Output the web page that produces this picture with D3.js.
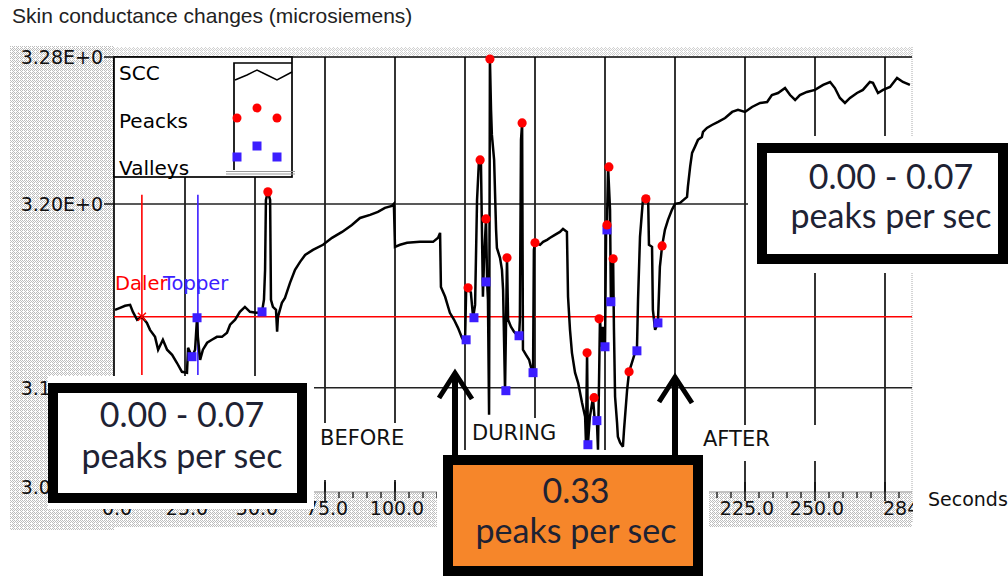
<!DOCTYPE html>
<html><head><meta charset="utf-8">
<script src="https://cdn.jsdelivr.net/npm/d3@7"></script>
<style>html,body{margin:0;padding:0;background:#fff;}svg{display:block;}</style>
</head><body>
<svg id="chart" width="1008" height="576"></svg>
<script>
// ---------- DATA (seconds, microsiemens) ----------
const sccBefore = [[0.0,3.1424],[1.8,3.1435],[3.6,3.1446],[5.4,3.1451],[6.4,3.1413],[7.9,3.1370],[9.6,3.1386],[11.4,3.1353],[12.5,3.1315],[14.3,3.1277],[15.4,3.1207],[17.1,3.1261],[18.6,3.1207],[20.4,3.1179],[22.1,3.1136],[23.9,3.1087],[25.7,3.1082],[26.1,3.1218],[27.5,3.1169],[28.6,3.1207],[29.3,3.1381],[29.6,3.1277],[30.4,3.1152],[31.4,3.1207],[32.9,3.1245],[34.6,3.1261],[36.4,3.1277],[38.2,3.1277],[40.0,3.1299],[41.1,3.1343],[42.9,3.1370],[44.6,3.1413],[46.4,3.1440],[48.2,3.1413],[50.7,3.1408],[52.5,3.1413],[53.2,3.1479],[53.6,3.1642],[53.9,3.2022],[54.6,3.2066],[55.4,3.2022],[55.7,3.1479],[56.4,3.1440],[57.5,3.1424],[57.9,3.1305],[58.2,3.1386],[59.6,3.1462],[60.7,3.1489],[62.5,3.1571],[64.3,3.1642],[66.1,3.1685],[67.9,3.1723],[70.7,3.1750],[74.3,3.1778],[77.5,3.1816],[81.1,3.1848],[84.6,3.1886],[87.5,3.1924],[91.1,3.1941],[93.9,3.1957],[96.4,3.1979],[98.9,3.1990],[99.6,3.2001],[100.0,3.1767],[101.8,3.1778],[104.3,3.1789],[108.9,3.1794],[113.6,3.1794],[115.4,3.1816],[116.1,3.1843],[116.4,3.1549],[117.9,3.1495],[119.6,3.1408],[121.1,3.1370],[122.5,3.1326],[123.9,3.1272],[125.0,3.1245]];
const sccDuring = [[125.4,3.1522],[126.1,3.1544],[127.1,3.1517],[127.9,3.1381],[128.6,3.1451],[129.3,3.2022],[130.0,3.2240],[130.7,3.2224],[131.4,3.1495],[131.8,3.1696],[132.5,3.1919],[132.9,3.1576],[133.2,3.1479],[133.6,3.0853],[133.9,3.2789],[134.3,3.2512],[134.6,3.2376],[135.4,3.2240],[136.1,3.1859],[136.4,3.1761],[137.5,3.1707],[138.2,3.1642],[138.6,3.1533],[139.3,3.0984],[140.0,3.1707],[140.4,3.1370],[141.4,3.1332],[142.5,3.1305],[143.6,3.1288],[144.3,3.1277],[144.6,3.1370],[145.0,3.2349],[145.4,3.2441],[145.7,3.1207],[146.8,3.1179],[147.9,3.1152],[148.6,3.1109],[149.3,3.1082],[149.6,3.1750],[150.0,3.1789],[151.8,3.1778],[152.9,3.1794],[154.3,3.1805],[155.4,3.1816],[157.1,3.1832],[158.9,3.1848],[160.0,3.1865],[161.4,3.1848],[161.8,3.1495],[162.5,3.1315],[163.2,3.1190],[164.3,3.1082],[165.4,3.1027],[166.1,3.0973],[166.8,3.0918],[167.9,3.0842],[168.2,3.0701],[168.6,3.1190],[168.9,3.0690],[169.6,3.0842],[170.7,3.0946],[171.4,3.0810],[172.1,3.0821],[172.5,3.0663],[173.2,3.1370],[173.9,3.1223],[174.3,3.1332],[175.0,3.1218],[175.4,3.1859],[175.7,3.1886],[176.1,3.2202],[176.8,3.1968],[177.1,3.1468],[177.9,3.1702],[178.2,3.1315],[178.6,3.0951],[179.3,3.0810],[179.6,3.0734],[180.4,3.0701],[181.4,3.0679],[181.8,3.0772],[182.9,3.0989],[183.6,3.1087],[184.6,3.1136],[185.7,3.1190],[186.4,3.1201],[186.8,3.1479],[187.5,3.1821],[188.6,3.2033],[189.6,3.2039],[190.4,3.2039],[190.7,3.1778],[191.8,3.1767],[192.1,3.1424],[192.9,3.1315],[193.9,3.1353],[194.6,3.1658],[195.4,3.1772],[196.4,3.1859],[197.5,3.1914],[198.9,3.1968]];
const sccAfter = [[200.0,3.2001],[201.8,3.2006],[204.3,3.2039],[204.6,3.2093],[205.4,3.2202],[206.1,3.2278],[207.1,3.2311],[208.2,3.2349],[209.6,3.2365],[210.0,3.2392],[211.4,3.2414],[213.2,3.2430],[215.4,3.2447],[217.9,3.2468],[220.4,3.2501],[222.5,3.2512],[225.0,3.2501],[227.5,3.2528],[230.4,3.2550],[232.9,3.2555],[234.6,3.2593],[236.8,3.2604],[239.3,3.2631],[241.1,3.2593],[242.9,3.2566],[244.6,3.2593],[247.1,3.2610],[250.0,3.2621],[252.9,3.2648],[255.4,3.2664],[257.1,3.2631],[258.9,3.2577],[260.7,3.2550],[262.5,3.2577],[265.0,3.2604],[267.1,3.2621],[269.6,3.2664],[270.7,3.2659],[272.5,3.2604],[274.3,3.2621],[276.8,3.2637],[279.3,3.2686],[281.4,3.2664],[283.9,3.2648]];
const peaks = [[54.6,3.2066],[126.1,3.1544],[130.4,3.2240],[132.5,3.1919],[133.9,3.2789],[140.0,3.1707],[145.4,3.2441],[150.0,3.1789],[168.6,3.1190],[171.1,3.0946],[172.9,3.1375],[175.7,3.1886],[176.4,3.2202],[177.9,3.1702],[183.6,3.1087],[189.6,3.2028],[195.4,3.1772]];
const valleys = [[27.5,3.1169],[29.3,3.1381],[52.5,3.1413],[125.4,3.1261],[128.2,3.1381],[132.5,3.1576],[139.6,3.0984],[144.3,3.1283],[149.3,3.1082],[168.9,3.0690],[172.1,3.0821],[175.0,3.1223],[175.7,3.1859],[177.1,3.1468],[186.4,3.1201],[193.9,3.1353]];
const threshold = 3.1386;
const markerTimes = [9.6, 29.6];
const markerNames = ["Daler", "Topper"];
const markerSpan = [3.107, 3.205];
const xGridValues = [25,50,75,100,125,150,175,200,225,250,275];
const xLabelValues = [0,25,50,75,100,225,250];
const xLabelText = ["0.0","25.0","50.0","75.0","100.0","225.0","250.0"];
const xEndLabel = "284";
const yTickValues = [3.28,3.20,3.10,3.046];
const yTickText = ["3.28E+0","3.20E+0","3.10E+0","3.05E+0"];
const yGridValues = [3.20,3.10];
const legendItems = ["SCC","Peacks","Valleys"];
const phaseLabels = ["BEFORE","DURING","AFTER"];
const rateLabels = ["0.00 - 0.07","0.33","0.00 - 0.07"];
const rateUnit = "peaks per sec";

// ---------- SCALES ----------
const svg = d3.select("#chart");
const x = d3.scaleLinear().domain([0,285]).range([115,913]);
const y = d3.scaleLinear().domain([3.28,3.20]).range([57,204]);
const X0=114, X1=912, Y0=57, Y1=492;
const AX = "DejaVu Sans, Verdana, sans-serif";

svg.append("rect").attr("width",1008).attr("height",576).attr("fill","#fff");
const defs = svg.append("defs");
const pat = defs.append("pattern").attr("id","dither").attr("width",4).attr("height",4).attr("patternUnits","userSpaceOnUse");
pat.append("rect").attr("width",4).attr("height",4).attr("fill","#fff");
[[0,0],[2,0],[1,1],[3,1],[0,2],[2,2],[1,3]].forEach(([a,b])=>pat.append("rect").attr("x",a).attr("y",b).attr("width",1).attr("height",1).attr("fill","#bdbdbd"));
defs.append("clipPath").attr("id","plotclip").append("rect").attr("x",X0).attr("y",Y0-2).attr("width",X1-X0).attr("height",Y1-Y0+2);
defs.append("clipPath").attr("id","axclip").append("rect").attr("x",0).attr("y",0).attr("width",913).attr("height",576);

// dithered frame outside the plot
svg.append("rect").attr("x",10).attr("y",46).attr("width",X0-10).attr("height",484).attr("fill","url(#dither)");
svg.append("rect").attr("x",X0).attr("y",47).attr("width",X1-X0).attr("height",9).attr("fill","url(#dither)").attr("opacity",0.7);
svg.append("rect").attr("x",100).attr("y",Y1+1).attr("width",X1-100).attr("height",34).attr("fill","url(#dither)");
svg.append("rect").attr("x",X0).attr("y",Y0).attr("width",X1-X0).attr("height",Y1-Y0).attr("fill","#fff");
svg.append("line").attr("x1",X1).attr("x2",X1).attr("y1",47).attr("y2",Y1+30).attr("stroke","#aaa").attr("stroke-dasharray","1,1");

// grid
const g = svg.append("g");
g.selectAll("line.vg").data(xGridValues).join("line").attr("class","vg")
  .attr("x1",d=>x(d)).attr("x2",d=>x(d)).attr("y1",Y0).attr("y2",Y1)
  .attr("stroke","#111").attr("stroke-width",1.7);
g.selectAll("line.hg").data(yGridValues).join("line").attr("class","hg")
  .attr("x1",X0).attr("x2",X1).attr("y1",d=>y(d)).attr("y2",d=>y(d))
  .attr("stroke","#222").attr("stroke-width",1.7);
g.append("line").attr("x1",X0).attr("x2",X1).attr("y1",Y0).attr("y2",Y0).attr("stroke","#000").attr("stroke-width",1.7);
g.append("line").attr("x1",X0).attr("x2",X0).attr("y1",Y0).attr("y2",Y1).attr("stroke","#000").attr("stroke-width",1.7);

// threshold & markers
g.append("line").attr("x1",X0).attr("x2",X1).attr("y1",y(threshold)).attr("y2",y(threshold)).attr("stroke","#ff0000").attr("stroke-width",1.6);
const markerColors = ["#ff0000","#3c1eff"];
g.selectAll("line.mk").data(markerTimes).join("line").attr("class","mk")
  .attr("x1",d=>x(d)).attr("x2",d=>x(d)).attr("y1",y(markerSpan[1])).attr("y2",y(markerSpan[0]))
  .attr("stroke",(d,i)=>markerColors[i]).attr("stroke-width",1.6);

// signal
const series = sccBefore.concat(sccDuring, sccAfter);
const line = d3.line().x(d=>x(d[0])).y(d=>y(d[1]));
svg.append("path").datum(series).attr("d",line).attr("fill","none").attr("stroke","#000")
  .attr("stroke-width",2.5).attr("stroke-linejoin","miter").attr("stroke-miterlimit",3).attr("clip-path","url(#plotclip)");

// cross where Daler marker meets threshold
const cx0 = x(markerTimes[0]), cy0 = y(threshold);
svg.append("path").attr("d",`M${cx0-4},${cy0-4}L${cx0+4},${cy0+4}M${cx0-4},${cy0+4}L${cx0+4},${cy0-4}`).attr("stroke","#ff0000").attr("stroke-width",1.5);

// peaks / valleys
svg.selectAll("rect.valley").data(valleys).join("rect").attr("class","valley")
  .attr("x",d=>x(d[0])-4.5).attr("y",d=>y(d[1])-4.5).attr("width",9).attr("height",9).attr("fill","#3c1eff");
svg.selectAll("circle.peak").data(peaks).join("circle").attr("class","peak")
  .attr("cx",d=>x(d[0])).attr("cy",d=>y(d[1])).attr("r",4.6).attr("fill","#ff0000");

// marker names
const mt = svg.append("text").attr("y",290).attr("font-family",AX).attr("font-size",19.5);
mt.append("tspan").attr("x",115).attr("fill","#ff0000").text(markerNames[0]);
mt.append("tspan").attr("x",163).attr("fill","#3c1eff").text(markerNames[1]);

// legend
const lg = svg.append("g");
lg.append("rect").attr("x",X0).attr("y",Y0).attr("width",178).attr("height",120).attr("fill","#fff").attr("stroke","#000").attr("stroke-width",1.7);
lg.selectAll("text").data(legendItems).join("text").attr("x",119).attr("y",(d,i)=>80+i*47.5)
  .attr("font-family",AX).attr("font-size",20).attr("fill","#000").text(d=>d);
lg.append("path").attr("d","M234,170V63H292").attr("fill","none").attr("stroke","#000").attr("stroke-width",1.7);
lg.append("path").attr("d","M226,171.5H295M226,174H295").attr("stroke","#999").attr("stroke-width",1);
lg.append("polyline").attr("points","235,80 247,75 257,70 267,75 277,80 292,72").attr("fill","none").attr("stroke","#000").attr("stroke-width",1.5);
[[237,118],[257,108],[277,118]].forEach(([a,b])=>lg.append("circle").attr("cx",a).attr("cy",b).attr("r",4.5).attr("fill","#ff0000"));
[[237,157],[257,146],[277,157]].forEach(([a,b])=>lg.append("rect").attr("x",a-4.5).attr("y",b-4.5).attr("width",9).attr("height",9).attr("fill","#3c1eff"));

// phase labels (with white background as in the source)
const phasePos = [[316,423,90,57,320,445],[468,418,92,32,472,440],[698,425,125,36,703,446]];
phaseLabels.forEach((t,i)=>{
  const p = phasePos[i];
  svg.append("rect").attr("x",p[0]).attr("y",p[1]).attr("width",p[2]).attr("height",p[3]).attr("fill","#fff");
  svg.append("text").attr("x",p[4]).attr("y",p[5]).attr("font-family",AX).attr("font-size",21).attr("fill","#111").text(t);
});

// x axis
svg.append("line").attr("x1",X0).attr("x2",X1).attr("y1",Y1).attr("y2",Y1).attr("stroke","#888").attr("stroke-width",1);
const minor = d3.range(0,285,5).filter(v=>v%25!==0);
svg.selectAll("line.minor").data(minor).join("line").attr("class","minor")
  .attr("x1",d=>x(d)).attr("x2",d=>x(d)).attr("y1",Y1).attr("y2",Y1+6).attr("stroke","#111").attr("stroke-width",1.3);
svg.selectAll("line.major").data(xGridValues).join("line").attr("class","major")
  .attr("x1",d=>x(d)).attr("x2",d=>x(d)).attr("y1",Y1-10).attr("y2",Y1+9).attr("stroke","#111").attr("stroke-width",1.6);
svg.selectAll("text.xl").data(xLabelValues).join("text").attr("class","xl")
  .attr("x",d=>x(d)+2).attr("y",515).attr("text-anchor","middle").attr("font-family",AX).attr("font-size",19).attr("fill","#111")
  .text((d,i)=>xLabelText[i]);
svg.append("text").attr("x",883).attr("y",515).attr("font-family",AX).attr("font-size",19).attr("fill","#111").attr("clip-path","url(#axclip)").text(xEndLabel);
svg.append("text").attr("x",928).attr("y",506).attr("font-family",AX).attr("font-size",19).attr("fill","#111").text("Seconds");

// y axis
svg.selectAll("text.yl").data(yTickValues).join("text").attr("class","yl")
  .attr("x",103).attr("y",d=>y(d)+7).attr("text-anchor","end").attr("font-family",AX).attr("font-size",19).attr("fill","#111")
  .text((d,i)=>yTickText[i]);
svg.selectAll("line.yt").data(yTickValues).join("line").attr("class","yt")
  .attr("x1",104).attr("x2",X0).attr("y1",d=>y(d)).attr("y2",d=>y(d)).attr("stroke","#111").attr("stroke-width",1.5);

// title
svg.append("text").attr("x",12).attr("y",23).attr("font-family","Liberation Sans, Arial, sans-serif").attr("font-size",21).attr("fill","#222")
  .text("Skin conductance changes (microsiemens)");

// arrows
function arrow(cx, tip){
  svg.append("line").attr("x1",cx).attr("x2",cx).attr("y1",tip+3).attr("y2",455).attr("stroke","#000").attr("stroke-width",6);
  svg.append("polyline").attr("points",`${cx-16},${tip+25} ${cx},${tip} ${cx+17},${tip+26}`).attr("fill","none").attr("stroke","#000").attr("stroke-width",5).attr("stroke-linejoin","miter");
}

// rate boxes
const BF = "Lato, 'Open Sans', sans-serif";
function box(x0,y0,w,h,fill,l1,l2,cx,b1,b2){
  svg.append("rect").attr("x",x0+5).attr("y",y0+5).attr("width",w-10).attr("height",h-10).attr("fill",fill).attr("stroke","#000").attr("stroke-width",10);
  svg.append("text").attr("x",cx).attr("y",b1).attr("text-anchor","middle").attr("font-family",BF).attr("font-size",34).attr("fill","#1e2233").text(l1);
  svg.append("text").attr("x",cx).attr("y",b2).attr("text-anchor","middle").attr("font-family",BF).attr("font-size",34).attr("fill","#1e2233").text(l2);
}
// white margins
svg.append("rect").attr("x",48).attr("y",376).attr("width",266).attr("height",133).attr("fill","#fff");
svg.append("rect").attr("x",748).attr("y",136).attr("width",260).attr("height",137).attr("fill","#fff");
svg.append("rect").attr("x",437).attr("y",450).attr("width",272).attr("height",126).attr("fill","#fff");
arrow(455,373);
arrow(675,377);
box(48,383,259,120,"#fff",rateLabels[0],rateUnit,182,427,468);
box(757,143,251,121,"#fff",rateLabels[2],rateUnit,891,189,228);
box(443,455,260,121,"#f6862a",rateLabels[1],rateUnit,576,503,543);
</script>
</body></html>
